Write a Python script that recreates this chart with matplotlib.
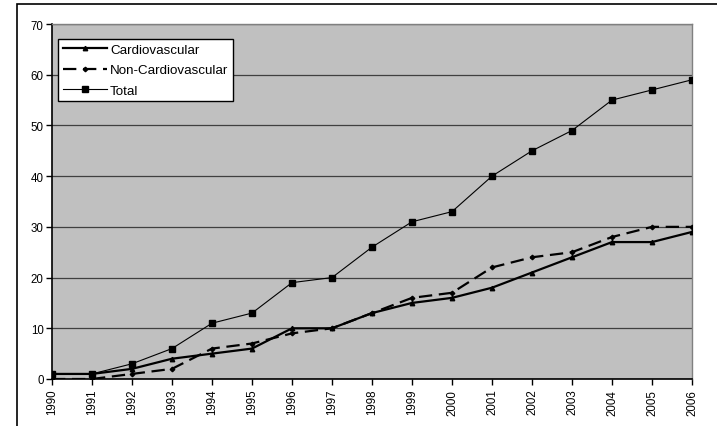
import matplotlib.pyplot as plt
from matplotlib.patches import Rectangle
import numpy as np

plt.rcParams['font.family'] = ['Liberation Sans', 'DejaVu Sans']

# data
years = list(range(1990, 2007))
cardio = [1, 1, 2, 4, 5, 6, 10, 10, 13, 15, 16, 18, 21, 24, 27, 27, 29]
non_cardio = [0, 0, 1, 2, 6, 7, 9, 10, 13, 16, 17, 22, 24, 25, 28, 30, 30]
total = [1, 1, 3, 6, 11, 13, 19, 20, 26, 31, 33, 40, 45, 49, 55, 57, 59]

W, H = 717, 427
fig = plt.figure(figsize=(W / 100, H / 100), dpi=100)
fig.patch.set_facecolor('white')

# outer chart border (only top/left visible in the frame)
fig.patches.append(Rectangle((17 / W, -0.1), 1.2, (H - 5) / H + 0.1,
                             transform=fig.transFigure, fill=False,
                             edgecolor='black', linewidth=1.2))

ax = fig.add_axes([52 / W, (H - 380) / H, 640 / W, 355 / H])
ax.set_facecolor('#c0c0c0')

x = np.arange(len(years))
ax.plot(x, cardio, color='black', linewidth=1.6, marker='^', markersize=3.2,
        label='Cardiovascular', zorder=4)
ax.plot(x, non_cardio, color='black', linewidth=1.6, linestyle=(0, (6, 3)),
        marker='D', markersize=2.3, label='Non-Cardiovascular', zorder=4)
ax.plot(x, total, color='black', linewidth=0.8, marker='s', markersize=4.5,
        label='Total', zorder=5)

ax.set_xlim(0, len(years) - 1)
ax.set_ylim(0, 70)
ax.set_yticks(range(0, 71, 10))
ax.set_xticks(x)
ax.set_xticklabels([str(y) for y in years], rotation=90, fontsize=8.3)
ax.tick_params(axis='y', labelsize=8.3, length=4, width=1, direction='out', pad=2)
ax.tick_params(axis='x', length=4, width=1, direction='out', pad=3)

# horizontal grid lines
ax.yaxis.grid(True, color='#404040', linewidth=0.9)
ax.set_axisbelow(True)

for side in ['top', 'right']:
    ax.spines[side].set_color('#808080')
    ax.spines[side].set_linewidth(1)
for side in ['left', 'bottom']:
    ax.spines[side].set_color('black')
    ax.spines[side].set_linewidth(1.2)

leg = ax.legend(loc='upper left', bbox_to_anchor=(6 / 640, 1 - 15 / 355),
                borderaxespad=0, fontsize=9.6, fancybox=False, framealpha=1,
                edgecolor='black', handlelength=3.3, handletextpad=0.25,
                labelspacing=0.6, borderpad=0.35)
leg.get_frame().set_linewidth(1)

fig.savefig('out.png', dpi=100)
